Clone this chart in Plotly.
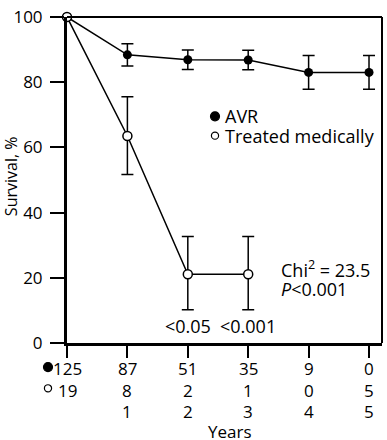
import plotly.graph_objects as go

years = [0, 1, 2, 3, 4, 5]
avr_surv = [100, 88.4, 86.9, 86.8, 83.0, 83.0]
avr_err = [0, 3.4, 3.0, 3.0, 5.2, 5.2]
med_years = [0, 1, 2, 3]
med_surv = [100, 63.5, 21.1, 21.1]
med_err_plus = [0, 12.0, 11.6, 11.6]
med_err_minus = [0, 11.8, 10.9, 10.9]
y_ticks = [0, 20, 40, 60, 80, 100]
risk_avr = ["125", "87", "51", "35", "9", "0"]
risk_med = ["19", "8", "2", "1", "0", "5"]
risk_row3 = ["", "1", "2", "3", "4", "5"]
p_x = [2, 3]
p_labels = ["<0.05", "<0.001"]
series_names = ["AVR", "Treated medically"]

FONT = "Open Sans"
BLK = "black"
fig = go.Figure()

fig.add_trace(go.Scatter(
    x=years, y=avr_surv, mode="lines+markers", showlegend=False, name=series_names[0],
    line=dict(color=BLK, width=1.5),
    marker=dict(size=9, color=BLK, symbol="circle"),
    error_y=dict(type="data", array=avr_err, color=BLK, thickness=1.5, width=6),
    cliponaxis=False,
))
fig.add_trace(go.Scatter(
    x=med_years, y=med_surv, mode="lines+markers", showlegend=False, name=series_names[1],
    line=dict(color=BLK, width=1.5),
    marker=dict(size=9, color="white", symbol="circle", line=dict(color=BLK, width=1.5)),
    error_y=dict(type="data", symmetric=False, array=med_err_plus, arrayminus=med_err_minus,
                 color=BLK, thickness=1.5, width=6),
    cliponaxis=False,
))


def dot(xp, yp, r, filled):
    return dict(type="circle", xref="paper", yref="paper", xsizemode="pixel", ysizemode="pixel",
                xanchor=xp, yanchor=yp, x0=-r, x1=r, y0=-r, y1=r,
                fillcolor=BLK if filled else "white", line=dict(color=BLK, width=1.2))


PW, PH = 315.0, 338.0  # plot area size in px


def px_x(p):
    return (p - 67) / PW


def px_y(p):
    return (343 - p) / PH


shapes = [
    dict(type="line", xref="paper", yref="paper", x0=0, x1=1, y0=1, y1=1, line=dict(color=BLK, width=2)),
    dict(type="line", xref="paper", yref="paper", x0=1, x1=1, y0=0, y1=1, line=dict(color=BLK, width=2)),
    # legend markers
    dot(px_x(215), px_y(108), 4.5, True),
    dot(px_x(215), px_y(128), 3.6, False),
    # at-risk row markers
    dot(px_x(48), px_y(368), 4.5, True),
    dot(px_x(48), px_y(390), 3.6, False),
]

ann = []
tf = dict(size=17, color=BLK, family=FONT)
bf = dict(size=18, color=BLK, family=FONT)
for i, x in enumerate(years):
    for txt, ys in ((risk_avr[i], -25), (risk_med[i], -47), (risk_row3[i], -68)):
        if txt:
            ann.append(dict(x=x, y=0, xref="x", yref="paper", text=txt, showarrow=False,
                            yanchor="middle", yshift=ys, font=tf))
for x, t in zip(p_x, p_labels):
    ann.append(dict(x=x, y=0, xref="x", yref="paper", text=t, showarrow=False,
                    yanchor="middle", yshift=17, font=bf))
ann.append(dict(x=px_x(279), y=px_y(266), xref="paper", yref="paper", text="Chi<sup>2</sup> = 23.5",
                showarrow=False, xanchor="left", yanchor="middle", font=bf))
ann.append(dict(x=px_x(279), y=px_y(287), xref="paper", yref="paper", text="<i>P</i><0.001",
                showarrow=False, xanchor="left", yanchor="middle", font=bf))
ann.append(dict(x=px_x(223), y=px_y(108), xref="paper", yref="paper", text=series_names[0],
                showarrow=False, xanchor="left", yanchor="middle", font=bf))
ann.append(dict(x=px_x(223), y=px_y(128), xref="paper", yref="paper", text=series_names[1],
                showarrow=False, xanchor="left", yanchor="middle", font=bf))
ann.append(dict(x=px_x(230), y=0, xref="paper", yref="paper", text="Years", showarrow=False,
                yanchor="middle", yshift=-88, font=tf))
ann.append(dict(x=px_x(11), y=px_y(170), xref="paper", yref="paper", text="Survival, %",
                showarrow=False, textangle=-90, xanchor="center", yanchor="middle",
                font=dict(size=16, color=BLK, family=FONT)))

fig.update_layout(
    width=387, height=440,
    margin=dict(l=67, r=5, t=5, b=97),
    plot_bgcolor="white", paper_bgcolor="white",
    font=dict(family=FONT, size=17, color=BLK),
    annotations=ann, shapes=shapes, showlegend=False,
)
fig.update_xaxes(range=[0, 5.215], tickvals=years, showticklabels=False, ticks="outside",
                 ticklen=12, tickwidth=1.5, tickcolor=BLK, showline=True, linewidth=3,
                 linecolor=BLK, showgrid=False, zeroline=False)
fig.update_yaxes(range=[0, 100], tickvals=y_ticks, ticks="outside", ticklen=14, tickwidth=1.5,
                 tickcolor=BLK, showline=True, linewidth=3, linecolor=BLK,
                 showgrid=False, zeroline=False, ticklabelstandoff=4, ticklabeloverflow="allow",
                 tickfont=dict(size=17, family=FONT, color=BLK))

fig.write_html("out.html", config={"displayModeBar": False})
with open("out.html", encoding="utf-8") as f:
    html = f.read()
html = html.replace("<head>", "<head><style>html,body{margin:0;padding:0;overflow:hidden;}</style>", 1)
with open("out.html", "w", encoding="utf-8") as f:
    f.write(html)
